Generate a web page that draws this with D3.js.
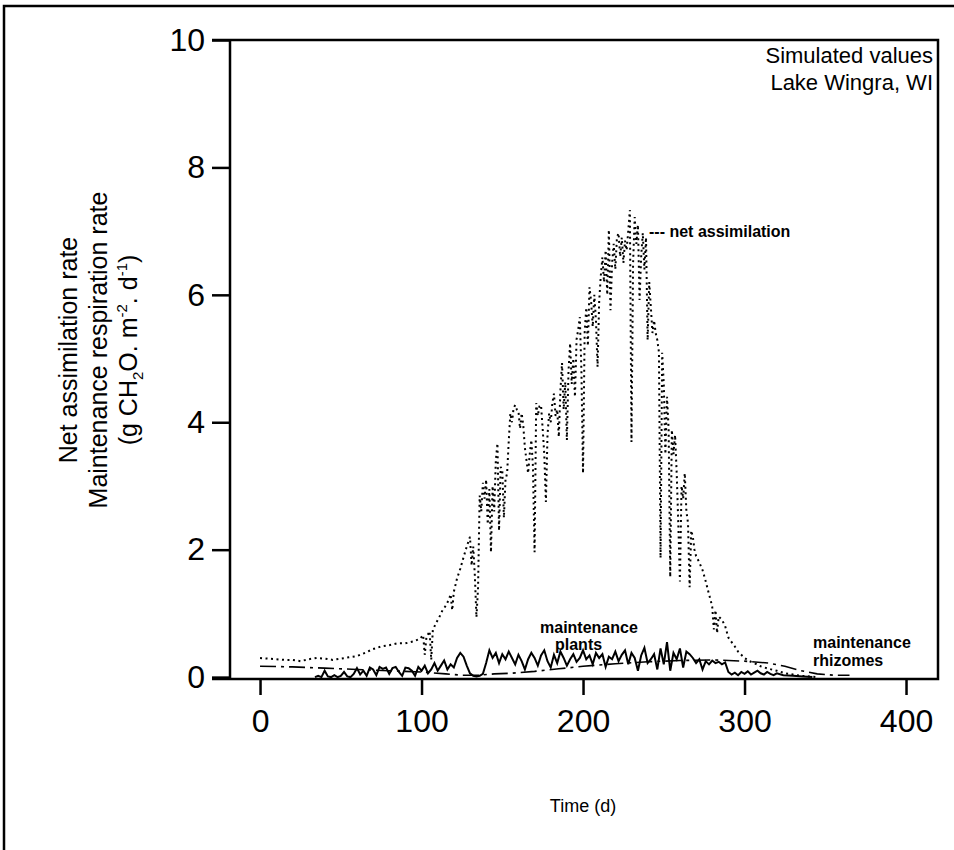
<!DOCTYPE html>
<html>
<head>
<meta charset="utf-8">
<script src="https://cdn.jsdelivr.net/npm/d3@7"></script>
<style>
  body { margin: 0; background: #fff; }
  svg { display: block; font-family: "Liberation Sans", Arial, sans-serif; }
</style>
</head>
<body>
<svg id="chart" width="954" height="850"></svg>
<script>
// tick labels
const xTicks = [0, 100, 200, 300, 400];
const yTicks = [0, 2, 4, 6, 8, 10];

// net assimilation, [day, g CH2O m-2 d-1]
const netAssimilation = [
  [0,0.30],[5,0.29],[10,0.28],[15,0.27],[20,0.27],[25,0.25],[30,0.28],[35,0.30],[40,0.29],[45,0.27],
  [50,0.29],[55,0.31],[60,0.33],[65,0.38],[70,0.44],[75,0.48],[80,0.50],[85,0.53],[90,0.53],[95,0.56],
  [99,0.60],[101,0.66],[102,0.35],[103,0.62],[105,0.72],[106,0.27],[107,0.74],[109,0.85],[111,0.94],[113,1.05],
  [115,1.12],[117,1.22],[118,1.30],[119,1.05],[120,1.34],[122,1.55],[124,1.70],[126,1.88],[128,2.05],[130,2.20],
  [131,1.75],[132,2.05],[133,1.60],[134,0.94],[135,1.40],[136,2.85],[137,2.60],[138,3.05],[139,2.80],[140,3.10],
  [141,2.40],[142,2.95],[143,1.96],[144,3.00],[145,2.60],[146,3.40],[147,3.67],[148,2.30],[149,3.30],[150,3.25],
  [151,2.50],[152,3.10],[153,3.20],[154,3.70],[155,4.14],[156,4.00],[157,4.22],[158,4.27],[159,4.20],[160,4.18],
  [161,3.90],[162,4.14],[163,3.95],[164,3.60],[165,3.40],[166,3.20],[167,3.50],[168,3.72],[169,3.30],[170,1.96],
  [171,4.30],[172,4.10],[173,4.25],[174,4.27],[175,3.90],[176,3.50],[177,2.75],[178,3.80],[179,4.14],[180,4.00],
  [181,4.30],[182,4.45],[183,4.10],[184,4.20],[185,3.77],[186,4.50],[187,4.93],[188,4.20],[189,4.63],[190,3.72],
  [191,4.80],[192,5.24],[193,4.60],[194,5.00],[195,4.40],[196,5.30],[197,5.45],[198,5.65],[199,4.80],[200,3.20],
  [201,5.40],[202,5.80],[203,5.20],[204,6.12],[205,5.90],[206,5.50],[207,6.00],[208,5.60],[209,4.87],[210,5.90],
  [211,6.30],[212,6.59],[213,6.20],[214,6.70],[215,6.00],[216,7.02],[217,5.76],[218,6.50],[219,6.80],[220,6.40],
  [221,6.90],[222,6.97],[223,6.60],[224,6.90],[225,6.50],[226,6.85],[227,6.70],[228,7.00],[229,7.33],[230,3.69],
  [231,6.50],[232,7.22],[233,6.80],[234,7.10],[235,5.92],[236,6.60],[237,6.97],[238,6.40],[239,6.90],[240,5.29],
  [241,6.20],[242,5.80],[243,5.40],[244,5.60],[245,5.40],[246,5.29],[247,5.10],[248,1.87],[249,5.09],[250,4.60],
  [251,3.50],[252,4.40],[253,3.90],[254,1.57],[255,3.88],[256,3.50],[257,3.80],[258,3.20],[259,2.40],[260,1.50],
  [261,3.00],[262,2.80],[263,3.20],[264,2.60],[265,2.42],[266,1.41],[267,2.30],[268,2.20],[269,2.00],[270,1.90],
  [272,1.80],[274,1.68],[276,1.50],[278,1.30],[279,1.21],[280,1.10],[281,0.75],[282,1.05],[283,0.69],[284,0.95],
  [286,0.90],[288,0.80],[290,0.62],[292,0.55],[294,0.48],[296,0.40],[298,0.35],[300,0.30],[303,0.25],[306,0.22],
  [310,0.17],[315,0.13],[320,0.10],[325,0.06],[330,0.04],[335,0.02],[340,0.01],[345,0.00]
];

// maintenance respiration of the plants (solid, jagged)
const plantsMaint = [
  [34,0.00],[36,0.02],[38,0.00],[40,0.10],[42,0.01],[44,0.00],[46,0.03],[48,0.00],[50,0.02],[52,0.08],
  [54,0.01],[56,0.00],[58,0.05],[60,0.14],[62,0.04],[64,0.10],[66,0.02],[68,0.15],[70,0.12],[72,0.03],
  [74,0.16],[76,0.13],[78,0.15],[80,0.05],[82,0.14],[84,0.16],[86,0.08],[88,0.02],[90,0.15],[92,0.14],
  [94,0.10],[96,0.02],[98,0.16],[100,0.10],[102,0.18],[104,0.06],[106,0.12],[108,0.22],[110,0.10],[112,0.18],
  [114,0.26],[116,0.12],[118,0.20],[120,0.15],[122,0.30],[124,0.38],[126,0.32],[128,0.18],[130,0.06],[132,0.02],
  [134,0.01],[136,0.02],[138,0.05],[140,0.22],[142,0.42],[144,0.30],[146,0.38],[148,0.22],[150,0.36],[152,0.28],
  [154,0.40],[156,0.30],[158,0.20],[160,0.35],[162,0.25],[164,0.12],[166,0.28],[168,0.38],[170,0.30],[172,0.18],
  [174,0.34],[176,0.42],[178,0.25],[180,0.15],[182,0.35],[184,0.22],[186,0.40],[188,0.30],[190,0.18],[192,0.28],
  [194,0.36],[196,0.24],[198,0.30],[200,0.42],[202,0.28],[204,0.34],[206,0.20],[208,0.38],[210,0.30],[212,0.36],
  [214,0.16],[216,0.32],[218,0.28],[220,0.40],[222,0.25],[224,0.35],[226,0.42],[228,0.20],[230,0.38],[232,0.30],
  [234,0.10],[236,0.34],[238,0.46],[240,0.22],[242,0.28],[244,0.36],[246,0.12],[248,0.45],[250,0.20],[252,0.55],
  [254,0.10],[256,0.38],[258,0.28],[260,0.45],[262,0.15],[264,0.40],[266,0.36],[268,0.30],[270,0.22],[272,0.28],
  [274,0.12],[276,0.25],[278,0.20],[280,0.26],[282,0.22],[284,0.24],[286,0.20],[288,0.23],[290,0.08],[292,0.04],
  [294,0.07],[296,0.03],[298,0.08],[300,0.05],[302,0.09],[304,0.04],[306,0.07],[308,0.10],[310,0.06],[312,0.04],
  [314,0.08],[316,0.05],[318,0.03],[320,0.06],[324,0.03],[330,0.02],[336,0.01],[342,0.00]
];

// maintenance respiration of the rhizomes (dash-dot)
const rhizomesMaint = [
  [0,0.17],[20,0.16],[40,0.14],[60,0.12],[80,0.10],[100,0.08],[115,0.05],[125,0.03],[135,0.03],[145,0.05],
  [155,0.06],[170,0.09],[185,0.13],[200,0.17],[220,0.21],[240,0.24],[260,0.26],[280,0.27],[300,0.25],[315,0.22],
  [325,0.17],[335,0.10],[345,0.05],[355,0.03],[365,0.03]
];

const svg = d3.select("#chart");

// plot box
const plotLeft = 230, plotRight = 938, plotTop = 40, plotBottom = 679;
const tickLen = 18;

const x = d3.scaleLinear().domain([-18.6, 419.8]).range([plotLeft, plotRight]);
const y = d3.scaleLinear().domain([-0.03, 10]).range([plotBottom, plotTop]);

// page frame (top + left edge of the scanned figure)
svg.append("path")
  .attr("d", "M4,850V6H954")
  .attr("fill", "none").attr("stroke", "#000").attr("stroke-width", 2.5);

/**** axes ****/
const yAxis = svg.append("g")
  .attr("transform", "translate(" + plotLeft + ",0)")
  .call(d3.axisLeft(y).tickValues(yTicks).tickSize(tickLen).tickPadding(7));

const xAxis = svg.append("g")
  .attr("transform", "translate(0," + plotBottom + ")")
  .call(d3.axisBottom(x).tickValues(xTicks).tickSize(16).tickPadding(14));

[yAxis, xAxis].forEach(function(g) {
  g.select(".domain").remove();
  g.selectAll("line").attr("stroke", "#000").attr("stroke-width", 2.5);
  g.selectAll("text")
    .attr("fill", "#000")
    .style("font-family", "'Liberation Sans', Arial, sans-serif")
    .style("font-size", "32px");
});

// box around the plot, the left & bottom sides run out to the tick length
svg.append("path")
  .attr("d", "M" + (plotLeft - tickLen) + "," + plotTop + "H" + plotRight + "V" + plotBottom + "H" + (plotLeft - tickLen)
        + "M" + plotLeft + "," + plotTop + "V" + plotBottom)
  .attr("fill", "none").attr("stroke", "#000").attr("stroke-width", 2.5);

/**** curves ****/
const line = d3.line()
  .x(function(d) { return x(d[0]); })
  .y(function(d) { return y(d[1]); });

svg.append("path")
  .datum(netAssimilation)
  .attr("d", line)
  .attr("fill", "none").attr("stroke", "#000")
  .attr("stroke-width", 2).attr("stroke-dasharray", "2,3.5");

svg.append("path")
  .datum(rhizomesMaint)
  .attr("d", line)
  .attr("fill", "none").attr("stroke", "#000")
  .attr("stroke-width", 1.6).attr("stroke-dasharray", "16,5,3,5");

svg.append("path")
  .datum(plantsMaint)
  .attr("d", line)
  .attr("fill", "none").attr("stroke", "#000")
  .attr("stroke-width", 2).attr("stroke-linejoin", "miter");

/**** labels ****/
svg.append("text").attr("x", 933).attr("y", 63).attr("text-anchor", "end")
  .style("font-size", "22px").text("Simulated values");
svg.append("text").attr("x", 933).attr("y", 90).attr("text-anchor", "end")
  .style("font-size", "22px").text("Lake Wingra, WI");

svg.append("text").attr("x", 649).attr("y", 237)
  .style("font-size", "16px").style("font-weight", "bold").text("--- net assimilation");

svg.append("text").attr("x", 540).attr("y", 633)
  .style("font-size", "16px").style("font-weight", "bold").text("maintenance");
svg.append("text").attr("x", 555).attr("y", 650)
  .style("font-size", "16px").style("font-weight", "bold").text("plants");

svg.append("text").attr("x", 813).attr("y", 648)
  .style("font-size", "16px").style("font-weight", "bold").text("maintenance");
svg.append("text").attr("x", 813).attr("y", 666)
  .style("font-size", "16px").style("font-weight", "bold").text("rhizomes");

svg.append("text").attr("x", 583).attr("y", 812).attr("text-anchor", "middle")
  .style("font-size", "18px").text("Time (d)");

// y title, three rotated lines
const yTitle = svg.append("g")
  .attr("transform", "translate(98,350) rotate(-90)")
  .style("font-size", "25px")
  .attr("text-anchor", "middle");

yTitle.append("text").attr("y", -21).text("Net assimilation rate");
yTitle.append("text").attr("y", 9).text("Maintenance respiration rate");

const unit = yTitle.append("text").attr("y", 39);
unit.append("tspan").text("(g CH");
unit.append("tspan").attr("dy", 6).style("font-size", "15px").text("2");
unit.append("tspan").attr("dy", -6).text("O. m");
unit.append("tspan").attr("dy", -10).style("font-size", "15px").text("-2");
unit.append("tspan").attr("dy", 10).text(". d");
unit.append("tspan").attr("dy", -10).style("font-size", "15px").text("-1");
unit.append("tspan").attr("dy", 10).text(")");
</script>
</body>
</html>
